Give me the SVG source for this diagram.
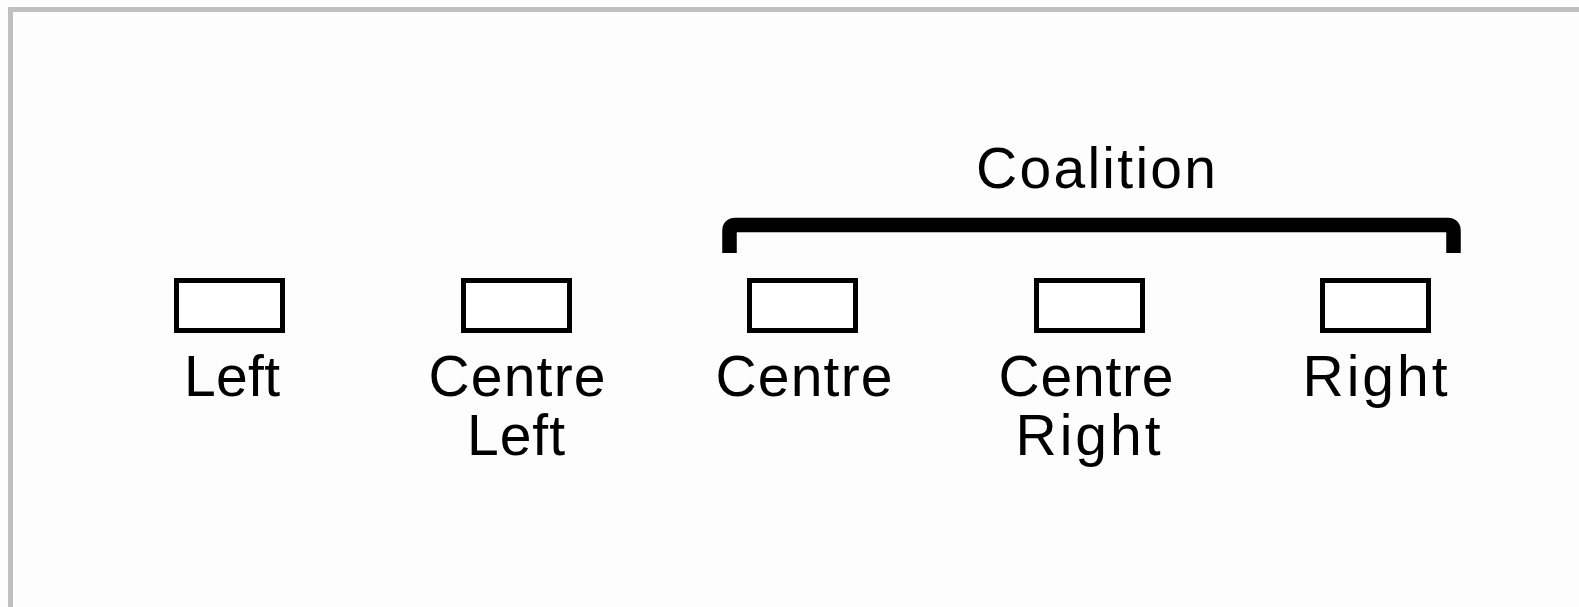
<svg xmlns="http://www.w3.org/2000/svg" width="1579" height="607" viewBox="0 0 1579 607">
  <style>
    .box { fill: #ffffff; stroke: #000000; stroke-width: 5; }
    .label { font-family: "Liberation Sans", Arial, sans-serif; font-size: 57px; fill: #000000; text-anchor: middle; }
    .bracket { fill: none; stroke: #000000; stroke-width: 14.5; stroke-linejoin: round; }
  </style>

  <!-- canvas and frame -->
  <rect x="0" y="0" width="1579" height="607" fill="#fdfdfd"/>
  <rect x="8" y="7" width="1571" height="5" fill="#c0c0c0"/>
  <rect x="8" y="7" width="5" height="600" fill="#c0c0c0"/>

  <!-- coalition bracket -->
  <g id="connectors">
    <path class="bracket" d="M729.5 253 V231 Q729.5 225 735 225 H1448 Q1453.5 225 1453.5 231 V253"/>
  </g>

  <g id="coalition">
    <text class="label" x="1096" y="188" textLength="240">Coalition</text>
  </g>

  <g id="left">
    <rect class="box" x="176.5" y="280.5" width="106" height="50"/>
    <text class="label" x="232" y="396" textLength="96">Left</text>
  </g>

  <g id="centre-left">
    <rect class="box" x="463.5" y="280.5" width="106" height="50"/>
    <text class="label" x="517" y="396" textLength="177">Centre</text>
    <text class="label" x="516" y="455" textLength="98">Left</text>
  </g>

  <g id="centre">
    <rect class="box" x="749.5" y="280.5" width="106" height="50"/>
    <text class="label" x="804" y="396" textLength="177">Centre</text>
  </g>

  <g id="centre-right">
    <rect class="box" x="1036.5" y="280.5" width="106" height="50"/>
    <text class="label" x="1086" y="396" textLength="175">Centre</text>
    <text class="label" x="1088" y="455" textLength="145">Right</text>
  </g>

  <g id="right">
    <rect class="box" x="1322.5" y="280.5" width="106" height="50"/>
    <text class="label" x="1375" y="396" textLength="145">Right</text>
  </g>
</svg>
